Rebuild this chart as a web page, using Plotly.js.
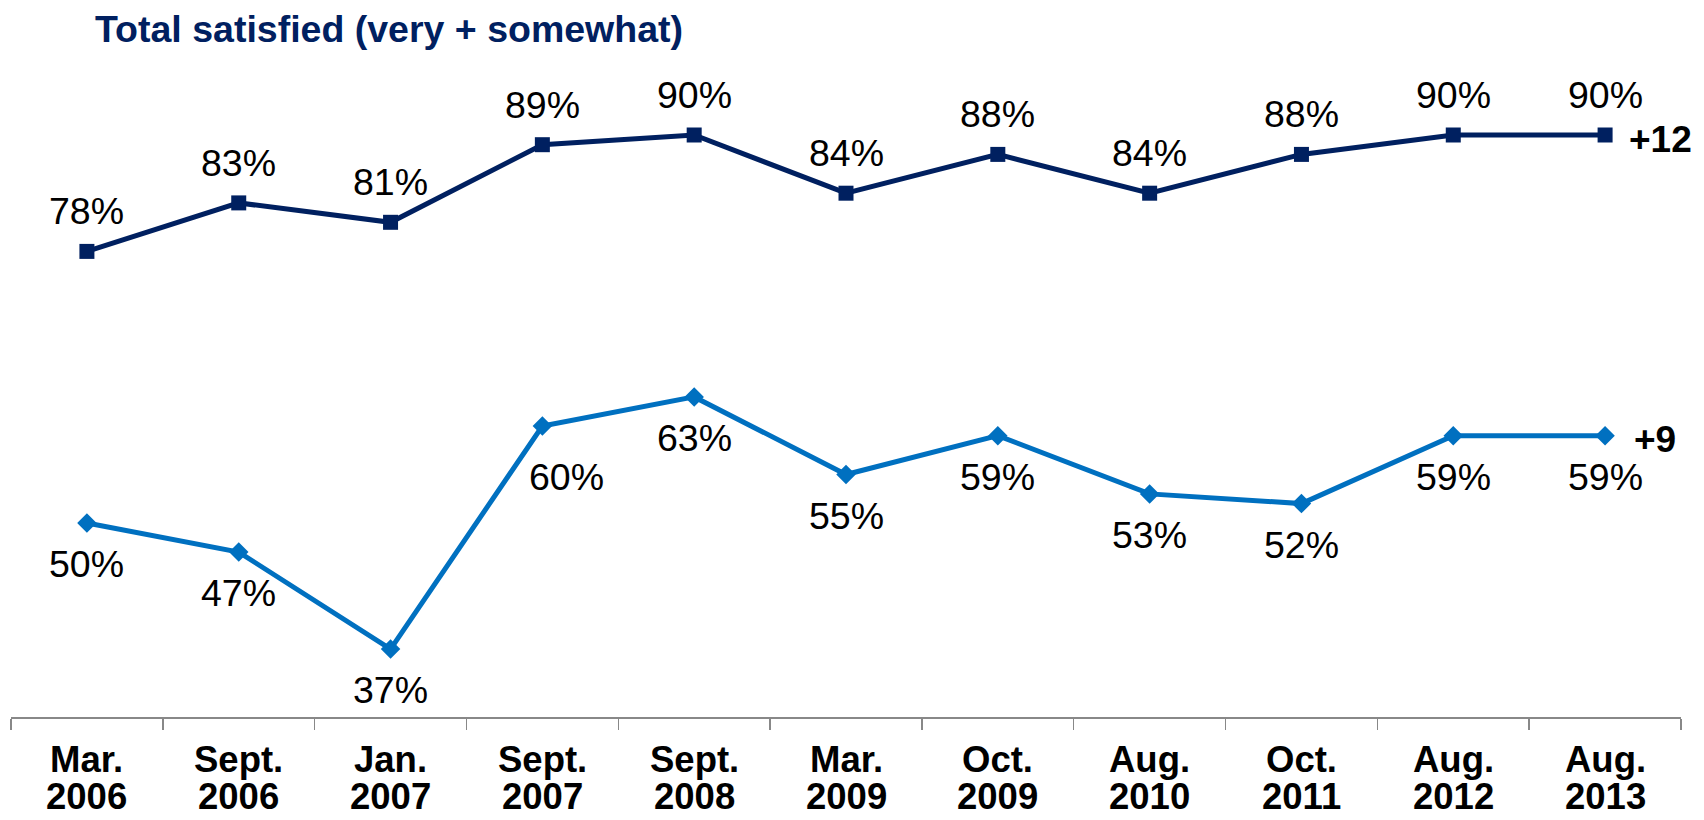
<!DOCTYPE html>
<html>
<head>
<meta charset="utf-8">
<script src="https://cdn.plot.ly/plotly-3.0.1.min.js"></script>
<style>
html,body{margin:0;padding:0;background:#fff;}
#chart{width:1704px;height:820px;}
</style>
</head>
<body>
<div id="chart"></div>
<script>
const months = ["Mar.","Sept.","Jan.","Sept.","Sept.","Mar.","Oct.","Aug.","Oct.","Aug.","Aug."];
const years = ["2006","2006","2007","2007","2008","2009","2009","2010","2011","2012","2013"];
const totalSatisfied = [78,83,81,89,90,84,88,84,88,90,90];
const verySatisfied = [50,47,37,60,63,55,59,53,52,59,59];
const totalChange = "+12";
const veryChange = "+9";
const titleText = "Total satisfied (very + somewhat)";
const seriesLabel = "Very satisfied";

const categories = months.map((m, i) => m + " " + years[i]);

const FONT = "Arial, 'Liberation Sans', sans-serif";
const NAVY = "#002060";
const BLUE = "#0070C0";

const traces = [
  {
    x: categories, y: totalSatisfied, type: "scatter", mode: "lines+markers",
    line: {color: NAVY, width: 5},
    marker: {symbol: "square", size: 15, color: NAVY},
    cliponaxis: false, hoverinfo: "skip", showlegend: false
  },
  {
    x: categories, y: verySatisfied, type: "scatter", mode: "lines+markers",
    line: {color: BLUE, width: 5},
    marker: {symbol: "diamond", size: 15, color: BLUE},
    cliponaxis: false, hoverinfo: "skip", showlegend: false
  }
];

const annotations = [];
categories.forEach((c, i) => {
  annotations.push({
    x: c, y: totalSatisfied[i], xref: "x", yref: "y",
    text: totalSatisfied[i] + "%", showarrow: false,
    xanchor: "center", yanchor: "middle", yshift: 40,
    font: {family: FONT, size: 37.5, color: "#000"}
  });
  annotations.push({
    x: c, y: verySatisfied[i], xref: "x", yref: "y",
    text: verySatisfied[i] + "%", showarrow: false,
    xanchor: "center", yanchor: "middle",
    yshift: (i === 3 ? -51 : -41),
    xshift: (i === 3 ? 24 : 0),
    font: {family: FONT, size: 37.5, color: "#000"}
  });
  // category labels (two rows) under the axis
  annotations.push({
    x: c, y: 0, xref: "x", yref: "paper",
    text: "<b>" + months[i] + "</b>", showarrow: false,
    xanchor: "center", yanchor: "middle", yshift: -42,
    font: {family: FONT, size: 36.5, color: "#000"}
  });
  annotations.push({
    x: c, y: 0, xref: "x", yref: "paper",
    text: "<b>" + years[i] + "</b>", showarrow: false,
    xanchor: "center", yanchor: "middle", yshift: -79,
    font: {family: FONT, size: 36.5, color: "#000"}
  });
});
const last = categories.length - 1;
annotations.push({
  x: categories[last], y: totalSatisfied[last], xref: "x", yref: "y",
  text: "<b>" + totalChange + "</b>", showarrow: false,
  xanchor: "left", yanchor: "middle", xshift: 22, yshift: -4,
  font: {family: FONT, size: 37, color: "#000"}
});
annotations.push({
  x: categories[last], y: verySatisfied[last], xref: "x", yref: "y",
  text: "<b>" + veryChange + "</b>", showarrow: false,
  xanchor: "left", yanchor: "middle", xshift: 27, yshift: -4,
  font: {family: FONT, size: 37, color: "#000"}
});
annotations.push({
  x: 96/1704, y: 1 - 423/820, xref: "paper", yref: "container",
  text: "<b>" + seriesLabel + "</b>", showarrow: false,
  xanchor: "left", yanchor: "middle",
  font: {family: FONT, size: 36.5, color: BLUE}
});

const layout = {
  width: 1704, height: 820,
  margin: {l: 11, r: 23, t: 38, b: 103},
  paper_bgcolor: "#fff", plot_bgcolor: "#fff",
  title: {
    text: "<b>" + titleText + "</b>",
    x: 389/1704, xref: "container", xanchor: "center",
    y: 1 - 29/820, yref: "container", yanchor: "middle",
    font: {family: FONT, size: 37.5, color: NAVY}
  },
  xaxis: {
    type: "category", range: [-0.5, 10.5], fixedrange: true,
    showgrid: false, zeroline: false,
    showline: true, linecolor: "#888888", linewidth: 1.5,
    ticks: "outside", tickson: "boundaries", ticklen: 11, tickwidth: 1.5, tickcolor: "#888888",
    showticklabels: false
  },
  yaxis: {range: [30, 100], visible: false, fixedrange: true, showgrid: false, zeroline: false},
  annotations: annotations,
  showlegend: false
};

Plotly.newPlot("chart", traces, layout, {displayModeBar: false, staticPlot: true});
</script>
</body>
</html>
